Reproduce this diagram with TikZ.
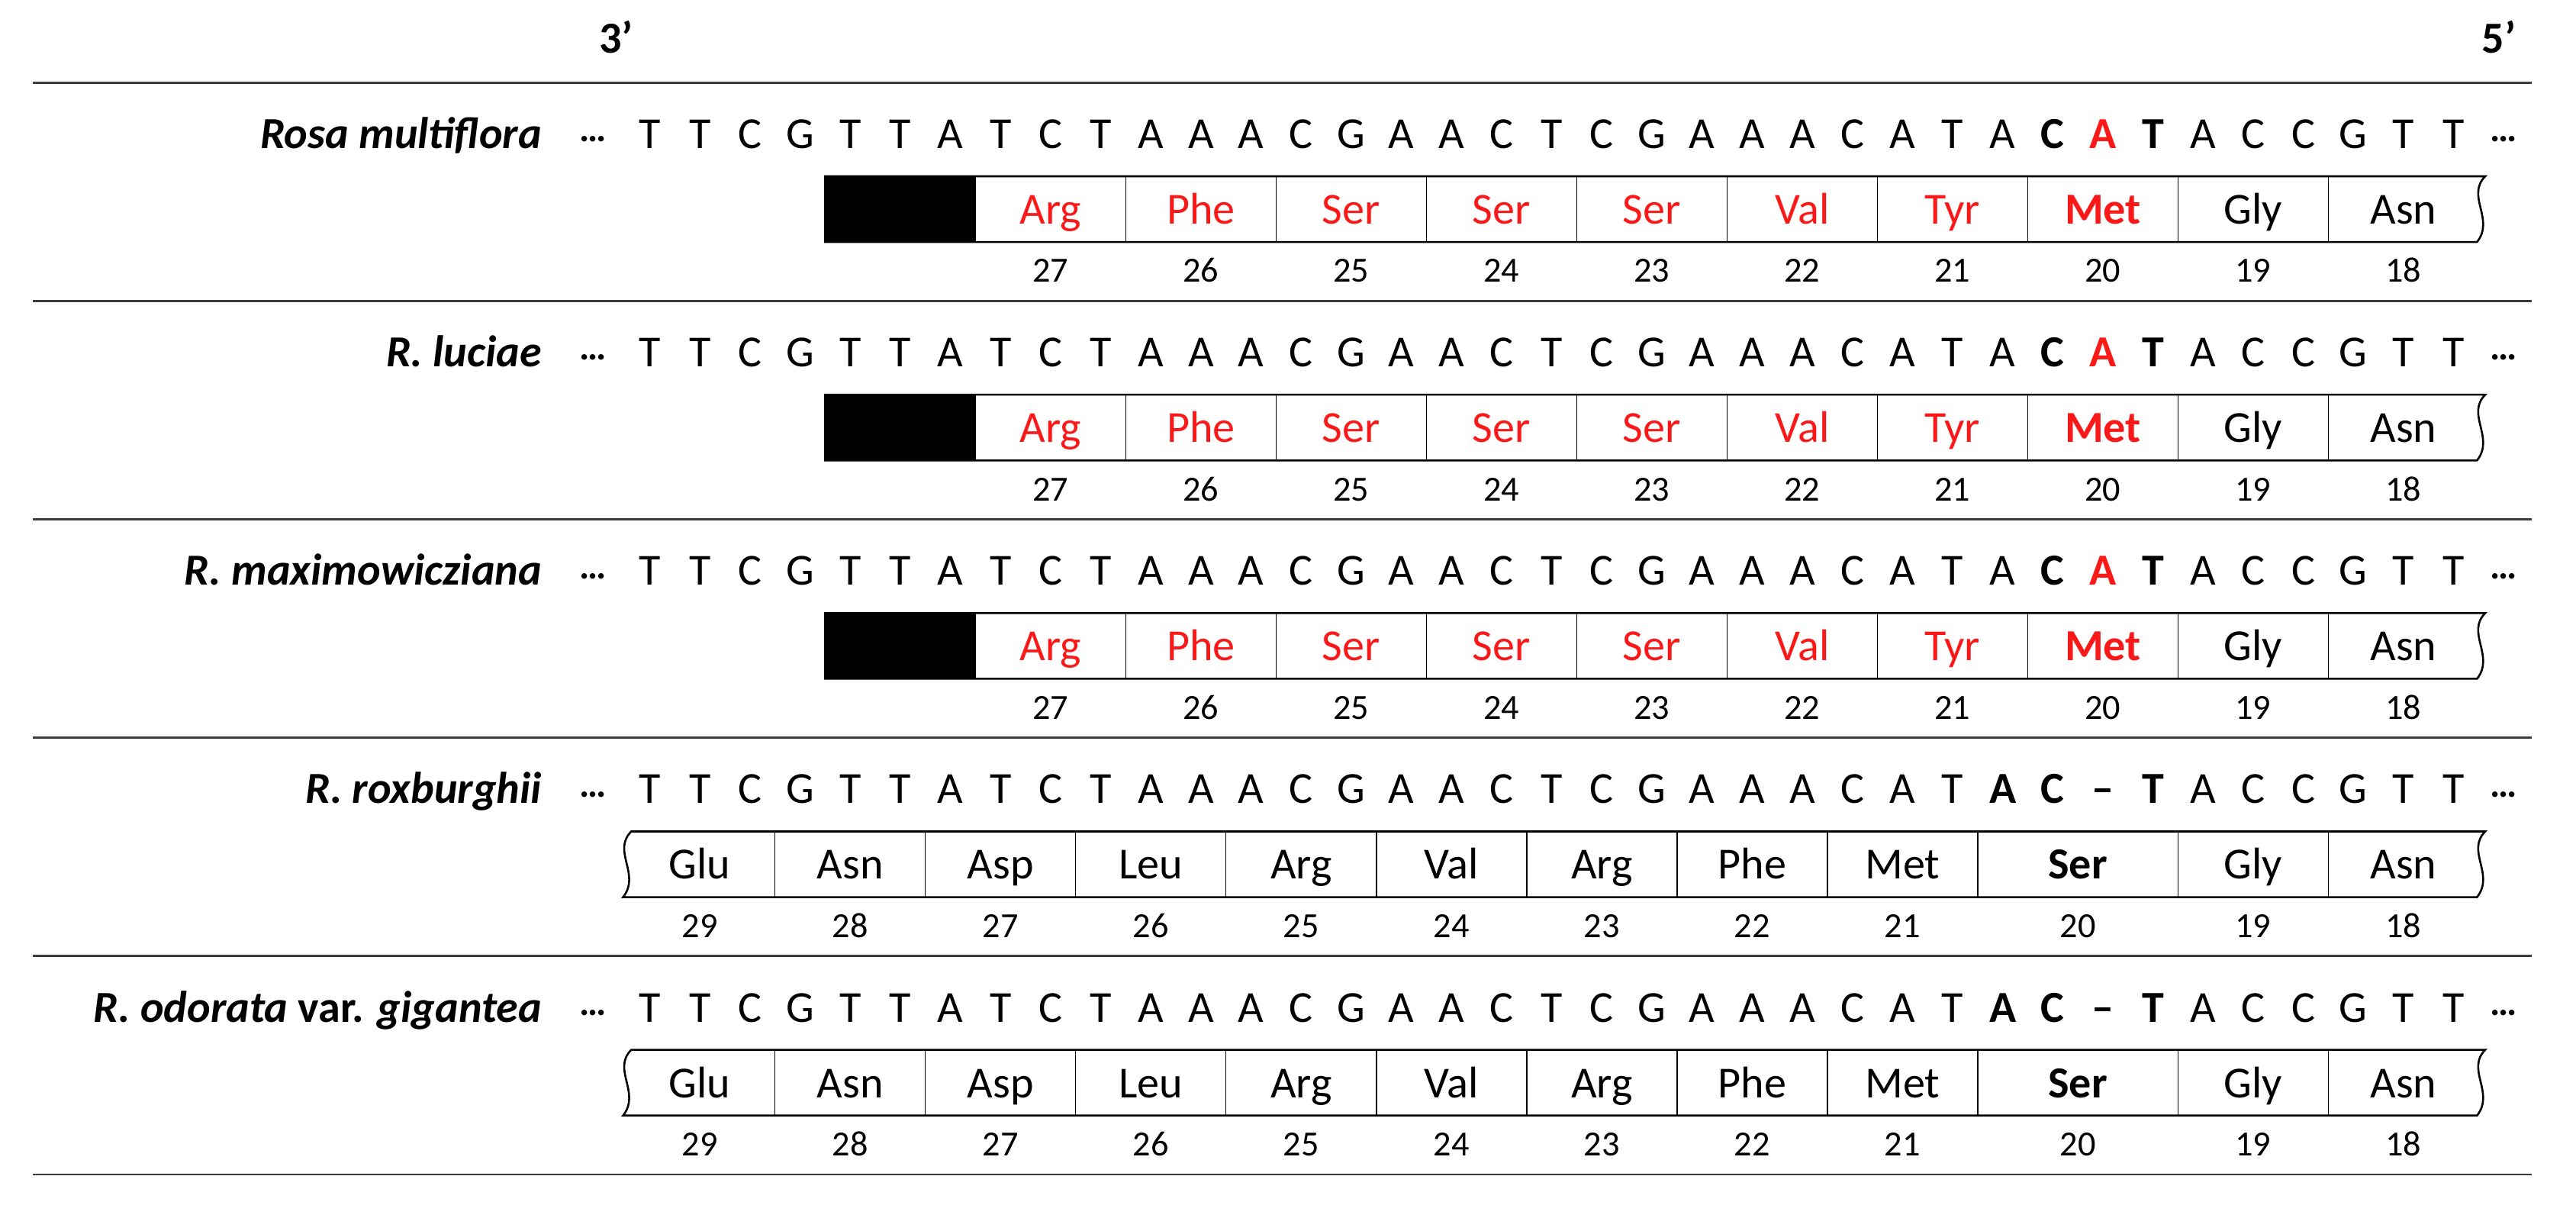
\documentclass[tikz,border=0pt]{standalone}
\usepackage{fontspec}
\setmainfont{Carlito}
\definecolor{aared}{RGB}{250,25,25}
\definecolor{rulegray}{RGB}{60,60,60}
\tikzset{
  txt/.style={inner sep=0pt, anchor=base, font=\fontsize{27}{30}\selectfont},
  numtxt/.style={inner sep=0pt, anchor=base, font=\fontsize{21.5}{26}\selectfont},
  dotstxt/.style={inner sep=0pt, anchor=base, font=\fontsize{23}{26}\selectfont\bfseries},
  nrm/.style={},
  bld/.style={font=\fontsize{27}{30}\selectfont\bfseries},
  bldred/.style={font=\fontsize{27}{30}\selectfont\bfseries, text=aared},
  rtxt/.style={text=aared},
  ktxt/.style={text=black},
  sptxt/.style={inner sep=0pt, anchor=base east, font=\fontsize{27}{30}\selectfont\bfseries\itshape},
  rule/.style={draw=rulegray, line width=1.3pt},
  stripline/.style={draw=black, line width=1.2pt},
  divline/.style={draw=black, line width=0.7pt},
}
\def\xo{395.5}
\def\dx{30.5}
\begin{document}
\begin{tikzpicture}[x=1pt,y=-1pt]
\useasboundingbox (0,0) rectangle (1568,741);
% ends
\node[txt, font=\fontsize{27}{30}\selectfont\bfseries] (three) at (375,32.5) {3’};
\node[txt, font=\fontsize{27}{30}\selectfont\bfseries] (five) at (1521,32.5) {5’};
% rules
\foreach \k in {0,...,5} {
  \coordinate (L\k) at (20,{50.3+132.9*\k});
  \coordinate (R\k) at (1541,{50.3+132.9*\k});
  \draw[rule] (L\k) -- (R\k);
}
% rows with premature stop (type A)
\foreach \r/\lab in {0/{Rosa multiflora},1/{R. luciae},2/{R. maximowicziana}} {
  \pgfmathsetmacro\yk{50.3+132.9*\r}
  \pgfmathsetmacro\yb{\yk+40}
  \pgfmathsetmacro\yt{\yk+57}
  \pgfmathsetmacro\ybot{\yk+97}
  \pgfmathsetmacro\yaa{\yk+86}
  \pgfmathsetmacro\ynum{\yk+121.5}
  \node[sptxt] (sp\r) at (330,\yb) {\lab};
  \node[dotstxt] (dl\r) at (361,{\yb-4}) {…};
  \node[dotstxt] (dr\r) at (1524,{\yb-4}) {…};
  \foreach \ch/\st [count=\i from 0] in {T/nrm,T/nrm,C/nrm,G/nrm,T/nrm,T/nrm,A/nrm,T/nrm,C/nrm,T/nrm,A/nrm,A/nrm,A/nrm,C/nrm,G/nrm,A/nrm,A/nrm,C/nrm,T/nrm,C/nrm,G/nrm,A/nrm,A/nrm,A/nrm,C/nrm,A/nrm,T/nrm,A/nrm,C/bld,A/bldred,T/bld,A/nrm,C/nrm,C/nrm,G/nrm,T/nrm,T/nrm}
    \node[txt,\st] (q\r-\i) at ({\xo+\dx*\i},\yb) {\ch};
  % strip
  \pgfmathsetmacro\xl{\xo+\dx*3.5}
  \pgfmathsetmacro\xr{\xo+\dx*36.5}
  \fill[black] (\xl,\yt) rectangle ({\xo+\dx*6.5},\ybot);
  \draw[stripline] (\xl,\yt) -- ({\xr+4},\yt)
     .. controls ({\xr-8},{\yt+12}) and ({\xr+10},{\ybot-14}) .. ({\xr-1},\ybot) -- (\xl,\ybot) -- cycle;
  \foreach \a/\b/\nm/\st/\num in {6.5/9.5/Arg/rtxt/27,9.5/12.5/Phe/rtxt/26,12.5/15.5/Ser/rtxt/25,15.5/18.5/Ser/rtxt/24,18.5/21.5/Ser/rtxt/23,21.5/24.5/Val/rtxt/22,24.5/27.5/Tyr/rtxt/21,27.5/30.5/Met/bldred/20,30.5/33.5/Gly/ktxt/19,33.5/36.5/Asn/ktxt/18} {
    \pgfmathsetmacro\xa{\xo+\dx*\a}
    \pgfmathsetmacro\xc{\xo+\dx*(\a+\b)/2}
    \draw[divline] (\xa,\yt) -- (\xa,\ybot);
    \node[txt,\st] (aa\r-\num) at (\xc,\yaa) {\nm};
    \node[numtxt] (n\r-\num) at (\xc,\ynum) {\num};
  }
}
% rows with frameshift (type B)
\foreach \r/\lab in {3/{R. roxburghii},4/{R. odorata \upshape var. \itshape gigantea}} {
  \pgfmathsetmacro\yk{50.3+132.9*\r}
  \pgfmathsetmacro\yb{\yk+40}
  \pgfmathsetmacro\yt{\yk+57}
  \pgfmathsetmacro\ybot{\yk+97}
  \pgfmathsetmacro\yaa{\yk+86}
  \pgfmathsetmacro\ynum{\yk+121.5}
  \node[sptxt] (sp\r) at (330,\yb) {\lab};
  \node[dotstxt] (dl\r) at (361,{\yb-4}) {…};
  \node[dotstxt] (dr\r) at (1524,{\yb-4}) {…};
  \foreach \ch/\st [count=\i from 0] in {T/nrm,T/nrm,C/nrm,G/nrm,T/nrm,T/nrm,A/nrm,T/nrm,C/nrm,T/nrm,A/nrm,A/nrm,A/nrm,C/nrm,G/nrm,A/nrm,A/nrm,C/nrm,T/nrm,C/nrm,G/nrm,A/nrm,A/nrm,A/nrm,C/nrm,A/nrm,T/nrm,A/bld,C/bld,–/bld,T/bld,A/nrm,C/nrm,C/nrm,G/nrm,T/nrm,T/nrm}
    \node[txt,\st] (q\r-\i) at ({\xo+\dx*\i},\yb) {\ch};
  \pgfmathsetmacro\xl{\xo+\dx*(-0.5)}
  \pgfmathsetmacro\xr{\xo+\dx*36.5}
  \draw[stripline] ({\xl+4},\yt) -- ({\xr+4},\yt)
     .. controls ({\xr-8},{\yt+12}) and ({\xr+10},{\ybot-14}) .. ({\xr-1},\ybot)
     -- ({\xl-1},\ybot)
     .. controls ({\xl+10},{\ybot-14}) and ({\xl-8},{\yt+12}) .. cycle;
  \foreach \a/\b/\nm/\st/\num in {-0.5/2.5/Glu/ktxt/29,2.5/5.5/Asn/ktxt/28,5.5/8.5/Asp/ktxt/27,8.5/11.5/Leu/ktxt/26,11.5/14.5/Arg/ktxt/25,14.5/17.5/Val/ktxt/24,17.5/20.5/Arg/ktxt/23,20.5/23.5/Phe/ktxt/22,23.5/26.5/Met/ktxt/21,26.5/30.5/Ser/bld/20,30.5/33.5/Gly/ktxt/19,33.5/36.5/Asn/ktxt/18} {
    \pgfmathsetmacro\xa{\xo+\dx*\a}
    \pgfmathsetmacro\xc{\xo+\dx*(\a+\b)/2}
    \ifdim\a pt>0pt \draw[divline] (\xa,\yt) -- (\xa,\ybot); \fi
    \node[txt,\st] (aa\r-\num) at (\xc,\yaa) {\nm};
    \node[numtxt] (n\r-\num) at (\xc,\ynum) {\num};
  }
}
\end{tikzpicture}
\end{document}
